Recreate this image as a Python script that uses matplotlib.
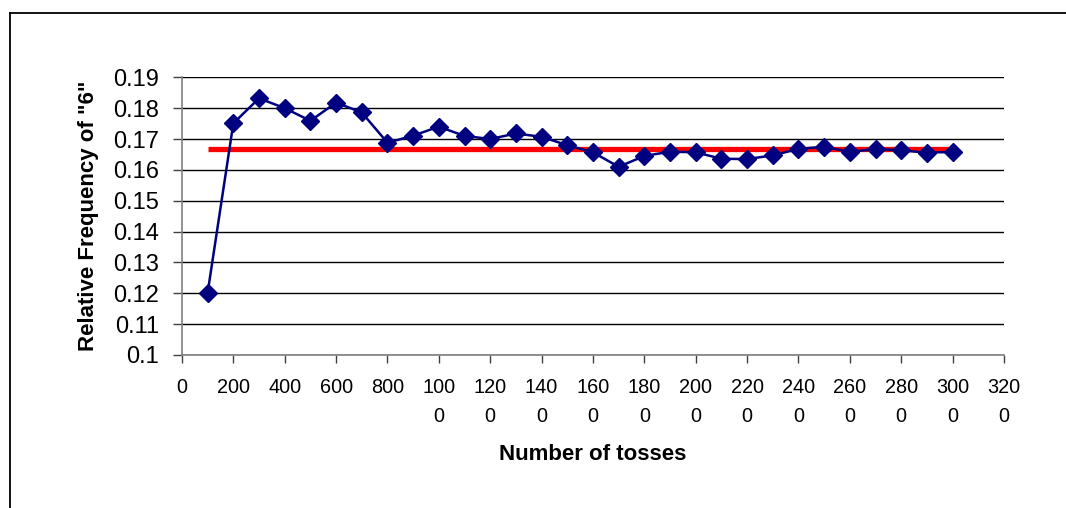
import matplotlib
matplotlib.use("Agg")
import matplotlib.pyplot as plt
from matplotlib.lines import Line2D

# data
tosses = [100, 200, 300, 400, 500, 600, 700, 800, 900, 1000,
          1100, 1200, 1300, 1400, 1500, 1600, 1700, 1800, 1900, 2000,
          2100, 2200, 2300, 2400, 2500, 2600, 2700, 2800, 2900, 3000]
rel_freq = [0.1202, 0.1751, 0.1832, 0.1800, 0.1759, 0.1818, 0.1786, 0.1688, 0.1711, 0.1740,
            0.1710, 0.1700, 0.1718, 0.1707, 0.1680, 0.1657, 0.1610, 0.1645, 0.1659, 0.1657,
            0.1636, 0.1635, 0.1647, 0.1668, 0.1675, 0.1658, 0.1668, 0.1663, 0.1656, 0.1658]
theory_x = [100, 3000]
theory_y = [1 / 6, 1 / 6]

x_ticks = list(range(0, 3201, 200))
x_tick_labels = ["0", "200", "400", "600", "800", "100\n0", "120\n0", "140\n0", "160\n0",
                 "180\n0", "200\n0", "220\n0", "240\n0", "260\n0", "280\n0", "300\n0", "320\n0"]
y_ticks = [0.10, 0.11, 0.12, 0.13, 0.14, 0.15, 0.16, 0.17, 0.18, 0.19]
y_tick_labels = ["0.1", "0.11", "0.12", "0.13", "0.14", "0.15", "0.16", "0.17", "0.18", "0.19"]

plt.rcParams['font.family'] = ['Liberation Sans', 'DejaVu Sans']

fig = plt.figure(figsize=(10.66, 5.08), dpi=100)
ax = fig.add_axes([0.1707, 0.3012, 0.7711, 0.5466])

ax.plot(theory_x, theory_y, color='#ff0000', lw=3.8, solid_capstyle='butt', zorder=3)
ax.plot(tosses, rel_freq, color='#000080', lw=1.8, marker='D', markersize=9,
        markerfacecolor='#000080', markeredgecolor='#000080', zorder=4)

ax.set_xlim(0, 3200)
ax.set_ylim(0.1, 0.19)
ax.set_xticks(x_ticks)
ax.set_xticklabels(x_tick_labels, linespacing=1.64, va='top')
ax.set_yticks(y_ticks)
ax.set_yticklabels(y_tick_labels)
ax.yaxis.grid(True, color='black', lw=1.0)
ax.set_axisbelow(True)

for side in ('top', 'right'):
    ax.spines[side].set_visible(False)
for side in ('left', 'bottom'):
    ax.spines[side].set_color('#808080')
    ax.spines[side].set_linewidth(1.2)

ax.tick_params(axis='y', direction='out', length=6.5, width=1, color='#404040',
               labelsize=17, pad=10)
ax.tick_params(axis='x', direction='out', length=5.5, width=1, color='#404040',
               labelsize=14.3, pad=11)

ax.set_xlabel('Number of tosses', fontsize=16, fontweight='bold', labelpad=13)
ax.set_ylabel('Relative Frequency of "6"', fontsize=16, fontweight='bold', labelpad=10)

# chart area border (only top and left are inside the picture)
fig.add_artist(Line2D([10 / 1066, 1.0], [1 - 13 / 508, 1 - 13 / 508],
                      transform=fig.transFigure, color='black', lw=1.3))
fig.add_artist(Line2D([10 / 1066, 10 / 1066], [0.0, 1 - 13 / 508],
                      transform=fig.transFigure, color='black', lw=1.3))

fig.savefig('out.png', dpi=100)
